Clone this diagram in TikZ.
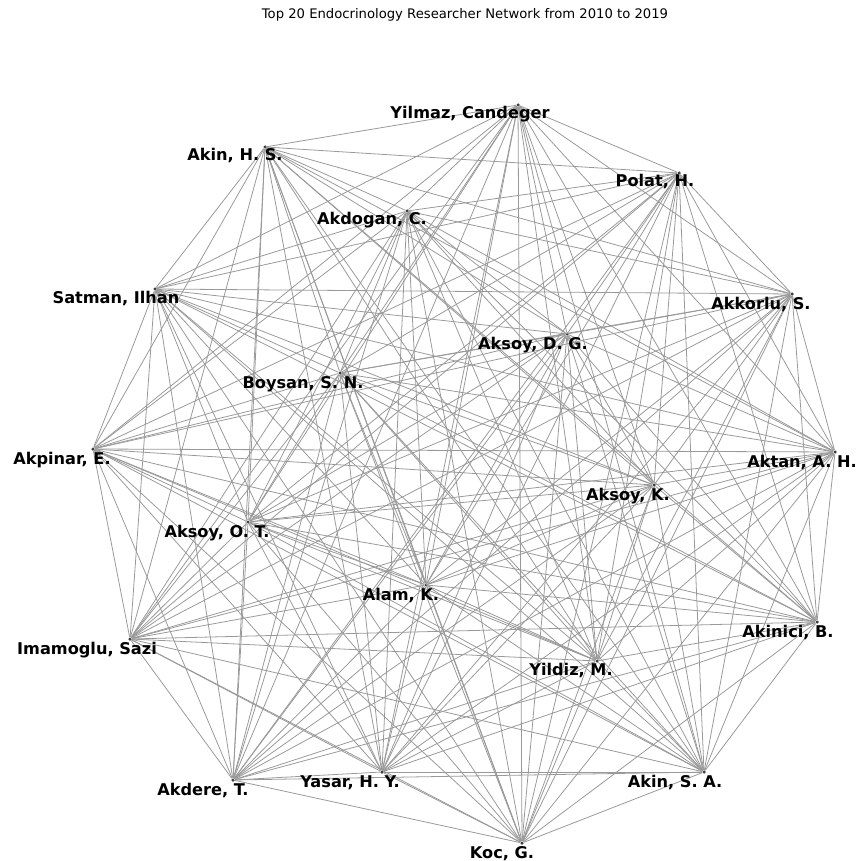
\documentclass[tikz,border=0pt]{standalone}
\usepackage{fontspec}
\setmainfont{DejaVu Sans}

\newcommand{\researchers}{yilmaz,akinhs,polat,akdogan,satman,akkorlu,aksoydg,boysan,akpinar,aktan,aksoyk,aksoyot,alam,imamoglu,akinici,yildiz,akdere,yasar,akinsa,koc}

\begin{document}
\begin{tikzpicture}[x=0.02cm, y=-0.02cm,
        researcher/.style={shape=circle, fill=black!75, inner sep=0pt, minimum size=0.07cm},
        tag/.style={anchor=base, inner sep=0pt, font=\fontsize{9.2}{11}\selectfont\bfseries},
        link/.style={draw=black!40, line width=0.45pt}]
        \useasboundingbox (0,0) rectangle (857,861);

        % title
        \node (title) [anchor=base, font=\fontsize{7.5}{9}\selectfont] at (465,19) {Top 20 Endocrinology Researcher Network from 2010 to 2019};

        % researchers
        \node (yilmaz) at (518,105) [researcher] {};
        \node (akinhs) at (265,147) [researcher] {};
        \node (polat) at (679,173) [researcher] {};
        \node (akdogan) at (407,211) [researcher] {};
        \node (satman) at (155,289) [researcher] {};
        \node (akkorlu) at (792,294) [researcher] {};
        \node (aksoydg) at (567,334) [researcher] {};
        \node (boysan) at (340,373) [researcher] {};
        \node (akpinar) at (93,449) [researcher] {};
        \node (aktan) at (835,452) [researcher] {};
        \node (aksoyk) at (654,485) [researcher] {};
        \node (aksoyot) at (248,522) [researcher] {};
        \node (alam) at (426,585) [researcher] {};
        \node (imamoglu) at (130,639) [researcher] {};
        \node (akinici) at (817,622) [researcher] {};
        \node (yildiz) at (597,661) [researcher] {};
        \node (akdere) at (233,780) [researcher] {};
        \node (yasar) at (382,772) [researcher] {};
        \node (akinsa) at (704,772) [researcher] {};
        \node (koc) at (522,843) [researcher] {};

        % co-authorships
        \foreach \a [count=\i] in \researchers
            \foreach \b [count=\j] in \researchers
                {\ifnum\j>\i \draw[link] (\a) -- (\b); \fi}

        % names
        \node (yilmazname) at (470,119) [tag] {Yilmaz, Candeger};
        \node (akinhsname) at (235,161) [tag] {Akin, H. S.};
        \node (polatname) at (655,187) [tag] {Polat, H.};
        \node (akdoganname) at (372,225) [tag] {Akdogan, C.};
        \node (satmanname) at (116,303) [tag] {Satman, Ilhan};
        \node (akkorluname) at (761,309) [tag] {Akkorlu, S.};
        \node (aksoydgname) at (533,349) [tag] {Aksoy, D. G.};
        \node (boysanname) at (303,388) [tag] {Boysan, S. N.};
        \node (akpinarname) at (62,464) [tag] {Akpinar, E.};
        \node (aktanname) at (802,467) [tag] {Aktan, A. H.};
        \node (aksoykname) at (628,500) [tag] {Aksoy, K.};
        \node (aksoyotname) at (217,537) [tag] {Aksoy, O. T.};
        \node (alamname) at (401,600) [tag] {Alam, K.};
        \node (imamogluname) at (87,654) [tag] {Imamoglu, Sazi};
        \node (akiniciname) at (788,637) [tag] {Akinici, B.};
        \node (yildizname) at (571,675) [tag] {Yildiz, M.};
        \node (akderename) at (203,795) [tag] {Akdere, T.};
        \node (yasarname) at (350,787) [tag] {Yasar, H. Y.};
        \node (akinsaname) at (675,787) [tag] {Akin, S. A.};
        \node (kocname) at (502,858) [tag] {Koc, G.};
    \end{tikzpicture}
\end{document}
